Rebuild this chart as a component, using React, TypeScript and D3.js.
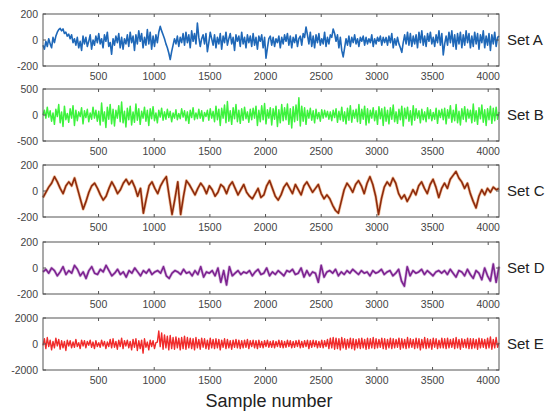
import React from "react";
import * as d3 from "d3";

const setNames = ["Set A", "Set B", "Set C", "Set D", "Set E"];
const colors = ["#1f68b8", "#3df23d", "#8e2a0c", "#7d2390", "#f02a2a"];
const haloColors = ["none", "none", "#e8a878", "#c9a0d4", "none"];
const yLimits = [200, 500, 200, 200, 2000];
const xTicks = [500, 1000, 1500, 2000, 2500, 3000, 3500, 4000];
const nSamples = 4097;

const setA = [
  -40, -70, -10, -50, 10, -30, -60, 20, -20, 30, 60, 80, 90, 70, 85, 50, 60, 30, 45, 10,
  40, -20, 10, -40, 20, -60, -10, -80, 30, -30, 20, -50, -10, 40, -70, 0, -40, 30, -20, 50,
  -30, 10, -60, 40, -10, 60, -50, -20, -110, 10, -40, 30, -20, 50, -60, 20, -70, 10, -30, 40,
  -50, 60, -20, 30, -80, 40, -30, 70, -10, 50, -60, 20, -40, 80, -30, 60, -70, 30, -50, 40,
  -20, 60, 105, 70, 40, 10, -30, -60, -100, -150, -90, -40, 10, -30, 30, -50, 20, -20, 50, -40,
  60, -20, 40, -60, 70, -10, 50, -30, 130, 20, -50, 10, 40, -30, 50, -90, -20, 60, 10, -40,
  40, -60, 20, -30, 50, -70, 30, -20, 60, -40, 10, 50, -30, 20, -80, 40, -10, 30, -50, 60,
  -30, 20, -60, 40, -20, 30, -50, 50, -40, 20, -70, 30, -10, 40, -60, 20, -140, -60, 10, 30,
  -40, 20, -50, 10, -20, 30, -60, 20, -30, 40, -10, 50, -40, 30, -60, 20, -20, 40, -50, 10,
  30, -40, 50, 20, 100, 40, -30, 60, -50, 30, -60, 40, -20, 50, -40, 10, -30, 60, -50, 20,
  -30, 40, 20, 85, 50, -10, 40, -60, 20, -80, -130, -60, 10, -40, 30, -50, 20, -20, 40, -30,
  10, -50, 20, -10, 30, -40, 20, -30, 10, -20, 40, -50, 10, -30, 20, -10, 30, -40, 20, -20,
  20, -40, 30, -20, 50, -60, 10, -40, 20, -30, -60, -95, -20, 40, -30, 60, -40, 50, -50, 30,
  -30, 40, -60, 60, -20, 70, -40, 30, -50, 50, -10, 60, -30, 20, -50, 40, -20, 70, -40, 50,
  -115, -30, 30, -40, 60, -20, 70, -50, 40, -70, 50, -30, 60, -60, 40, -40, 70, -20, 50, -60,
  30, -50, 60, -30, 50, -70, 40, -20, 70, -60, 30, -40, 50, -80, 40, -30, 60, -50, 20, 30,
];

const setB = [
  0, 90, -60, 150, -40, 80, -120, 40, -180, 110, -30, 200, -150, 60, -220, 170, -90, 30, -140, 120,
  -60, 180, -200, 90, -110, 60, -30, 140, -170, 80, -50, 110, -130, 40, -80, 150, -60, 90, -120, 70,
  -190, 230, -120, 60, -240, 150, -80, 200, -170, 110, -210, 90, -60, 180, -130, 250, -150, 70, -230, 130,
  -90, 170, -190, 60, -140, 210, -100, 120, -180, 70, -60, 150, -120, 90, -200, 120, -70, 160, -110, 40,
  -150, 90, -40, 130, -100, 60, -80, 110, -50, 70, -130, 40, -60, 100, -90, 30, -70, 120, -40, 80,
  -110, 60, -160, 90, -50, 140, -90, 40, -70, 110, -60, 80, -120, 50, -30, 90, -100, 120, -60, 70,
  -130, 170, -90, 110, -200, 130, -60, 190, -150, 260, -120, 80, -180, 140, -70, 200, -130, 90, -160, 120,
  -100, 150, -70, 60, -140, 110, -90, 130, -60, 170, -200, 90, -130, 180, -90, 220, -170, 100, -60, 140,
  -190, 120, -80, 170, -220, 100, -150, 200, -110, 140, -90, 210, -180, 120, -250, 160, -130, 190, -100, 330,
  -210, 170, -120, 140, -180, 90, -60, 130, -100, 80, -150, 110, -70, 50, -120, 100, -60, 90, -40, 70,
  -80, 60, -110, 90, -50, 120, -140, 70, -90, 150, -120, 60, -170, 130, -100, 180, -140, 90, -60, 110,
  -130, 200, -160, 110, -80, 170, -190, 120, -150, 90, -60, 140, -110, 80, -180, 160, -70, 120, -200, 150,
  -120, 90, -170, 140, -80, 190, -130, 60, -160, 110, -90, 170, -210, 130, -70, 150, -120, 80, -190, 180,
  -100, 120, -60, 80, -150, 110, -90, 60, -130, 140, -70, 100, -110, 50, -80, 130, -160, 90, -50, 110,
  -90, 130, -170, 100, -60, 180, -140, 90, -110, 200, -150, 70, -190, 120, -80, 160, -130, 110, -60, 90,
  -150, 210, -120, 80, -180, 140, -70, 190, -140, 100, -200, 120, -90, 170, -160, 130, -110, 150, -80, 60,
];

const setC = [
  -50, -10, 30, 60, 110, 70, 20, -20, 40, 70, 40, 100, 20, -60, -140, -80, -10, 40, 60, 20,
  -30, -70, -40, 20, 70, 30, -20, 10, 60, 90, 50, 80, 30, -40, 20, -170, -60, 40, 70, 20,
  -20, 40, 80, 110, -40, -180, -60, 70, -180, -40, 80, 50, 10, -30, 20, 60, 30, -20, 40, 10,
  -40, -10, 50, 30, -20, 40, 70, 20, -30, 10, 50, -10, -40, -60, -20, 20, -50, -30, 40, 80,
  20, -40, -70, -30, 30, 60, 20, -20, 50, 10, -30, 40, 70, 30, -10, 20, 50, -20, -60, -30,
  -60, -110, -150, -170, -80, 10, 60, 30, -10, 50, 80, 40, -20, 60, 110, 50, -40, -180, -60, 30,
  70, 40, 100, 60, -20, -60, -30, -80, -40, 10, -30, 40, 70, 20, -20, 50, 90, 30, -50, 20,
  60, 20, 90, 120, 150, 100, 70, 20, 60, -20, -80, -130, -40, 10, -30, 20, -10, 30, 10, 20,
];

const setD = [
  -30, -10, -40, 0, -20, -60, -30, 10, -50, -20, -40, 20, -10, -60, -30, -80, -20, 10, -40, -50,
  -10, -30, 20, -20, -60, -40, -10, -50, -30, -70, -20, -40, 0, -30, -60, -20, -40, -10, -50, -30,
  -20, -40, 10, -60, -80, -40, -20, -30, -50, -10, -40, -30, -60, -20, -50, 10, -70, -30, -40, -20,
  -60, 0, -110, -20, -130, 10, -60, -40, -20, -50, -30, -40, -20, -60, -30, -10, -50, -40, 0, -60,
  -30, -50, -20, -40, -60, -20, -30, -10, -50, -40, 0, -70, -20, -60, -30, -40, -110, 20, -70, -30,
  -20, -40, -10, -60, -30, -50, -20, -40, -10, -30, -50, -20, -40, -30, -60, -20, -40, -30, -10, -50,
  -30, -20, -60, -40, -10, -100, -140, 10, -60, -20, -40, -30, -10, -50, -20, -40, -60, -30, -20, -40,
  -20, -50, -10, -40, -70, -20, -30, -60, -10, -50, -80, -20, -40, -90, 0, -60, -100, 30, -110, 10,
];

const setE = [
  -100, 400, -350, 500, -200, 300, -450, 200, -300, 450, -150, 350, -400, 250, -300, 200, -500, 300, -150, 250,
  -300, 150, -250, 350, -200, 100, -350, 300, -150, 250, -300, 200, -100, 300, -250, 150, -350, 250, -200, 100,
  -250, 300, -150, 200, -350, 150, -200, 350, -300, 400, -250, 200, -400, 300, -200, 450, -350, 250, -150, 300,
  -300, 200, -450, 350, -250, 400, -500, 250, -350, 300, -700, 400, -250, 150, -450, 300, -200, 250, -350, 100,
  150, 1000, -200, 850, -400, 700, -300, 600, -450, 650, -350, 500, -400, 550, -300, 450, -450, 500, -350, 600,
  -400, 500, -300, 450, -350, 400, -450, 500, -300, 350, -400, 450, -250, 400, -350, 300, -400, 450, -300, 350,
  -350, 400, -300, 350, -450, 300, -250, 400, -350, 350, -300, 250, -400, 300, -250, 350, -300, 300, -350, 250,
  -300, 300, -250, 350, -350, 250, -200, 300, -300, 250, -350, 300, -250, 200, -300, 250, -200, 300, -250, 200,
  -250, 250, -300, 200, -200, 300, -250, 250, -300, 200, -250, 300, -200, 250, -300, 200, -250, 250, -200, 300,
  -300, 200, -250, 250, -200, 300, -350, 250, -250, 300, -200, 250, -300, 200, -250, 300, -300, 250, -200, 350,
  -350, 450, -300, 500, -400, 450, -350, 400, -450, 500, -300, 400, -400, 350, -300, 450, -350, 400, -450, 350,
  -300, 400, -350, 450, -300, 350, -400, 450, -350, 400, -300, 500, -350, 400, -300, 350, -250, 450, -350, 400,
  -400, 350, -300, 450, -350, 400, -300, 350, -250, 450, -400, 400, -300, 350, -350, 500, -300, 400, -250, 350,
  -350, 450, -300, 400, -450, 350, -300, 500, -350, 400, -300, 350, -400, 450, -250, 400, -350, 300, -300, 450,
  -300, 400, -350, 450, -300, 350, -250, 400, -350, 500, -300, 350, -400, 400, -250, 350, -300, 450, -350, 400,
  -350, 400, -300, 350, -400, 450, -300, 400, -250, 350, -350, 450, -300, 550, -400, 350, -300, 500, -250, 100,
];

const series = [setA, setB, setC, setD, setE];
const strokeWidths = [1.6, 1.5, 1.6, 1.6, 1.4];

const W = 548;
const H = 415;
const left = 43;
const right = 499;
const panelTops = [14, 89, 165, 242, 318];
const panelH = 52;
const font = "Liberation Sans, Arial, sans-serif";

export default function App() {
  const x = d3.scaleLinear().domain([1, nSamples]).range([left, right]);
  return (
    <svg
      width={W}
      height={H}
      style={{ position: "absolute", left: 0, top: 0, background: "#fff" }}
      fontFamily={font}
    >
      <rect x={0} y={0} width={W} height={H} fill="#fff" />
      {series.map((vals, si) => {
        const top = panelTops[si];
        const lim = yLimits[si];
        const y = d3.scaleLinear().domain([-lim, lim]).range([top + panelH, top]);
        const n = vals.length;
        const line = d3
          .line<number>()
          .x((_, i) => x(1 + (i * (nSamples - 1)) / (n - 1)))
          .y((v) => y(v));
        const yTicks = [-lim, 0, lim];
        const d = line(vals) || "";
        return (
          <g key={si}>
            {haloColors[si] !== "none" && (
              <path d={d} fill="none" stroke={haloColors[si]} strokeWidth={3} strokeLinejoin="round" opacity={0.7} />
            )}
            <path d={d} fill="none" stroke={colors[si]} strokeWidth={strokeWidths[si]} strokeLinejoin="round" />
            <rect x={left} y={top} width={right - left} height={panelH} fill="none" stroke="#555" strokeWidth={1} />
            {xTicks.map((t) => (
              <g key={t}>
                <line x1={x(t)} x2={x(t)} y1={top} y2={top + 3} stroke="#555" />
                <line x1={x(t)} x2={x(t)} y1={top + panelH} y2={top + panelH - 3} stroke="#555" />
                <text x={x(t)} y={top + panelH + 14} textAnchor="middle" fontSize={10.5} fill="#444">
                  {t}
                </text>
              </g>
            ))}
            {yTicks.map((t) => (
              <g key={t}>
                <line x1={left} x2={left + 3} y1={y(t)} y2={y(t)} stroke="#555" />
                <line x1={right} x2={right - 3} y1={y(t)} y2={y(t)} stroke="#555" />
                <text x={left - 5} y={y(t) + 4} textAnchor="end" fontSize={10.5} fill="#444">
                  {t}
                </text>
              </g>
            ))}
            <text x={507} y={top + panelH / 2 + 5} fontSize={15} fill="#222">
              {setNames[si]}
            </text>
          </g>
        );
      })}
      <text x={269} y={407} textAnchor="middle" fontSize={18} fill="#222">
        Sample number
      </text>
    </svg>
  );
}
